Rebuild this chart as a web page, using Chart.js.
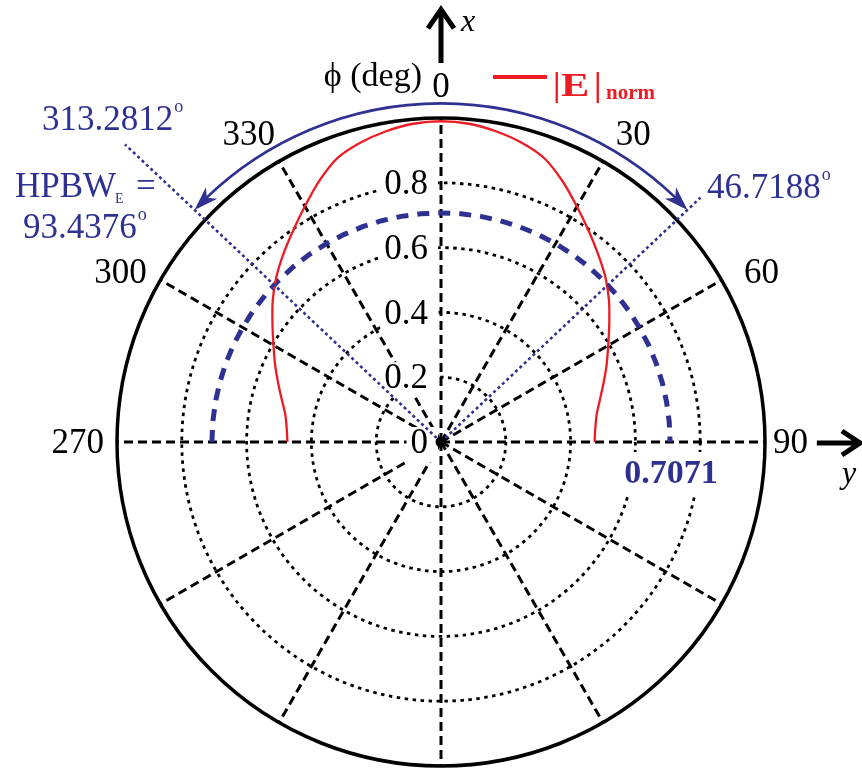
<!DOCTYPE html>
<html>
<head>
<meta charset="utf-8">
<title>E-plane pattern</title>
<script src="https://cdn.jsdelivr.net/npm/chart.js@4.4.1/dist/chart.umd.min.js"></script>
<style>
  html, body { margin: 0; padding: 0; background: #fff; }
  #wrap { position: relative; width: 862px; height: 773px; }
</style>
</head>
<body>
<div id="wrap"><canvas id="pattern"></canvas></div>
<script>
// phi in degrees, one radar spoke every 5 deg, clockwise from +x (top)
const phiDeg = [
  0, 5, 10, 15, 20, 25, 30, 35, 40, 45, 50, 55,
  60, 65, 70, 75, 80, 85, 90, 95, 100, 105, 110, 115,
  120, 125, 130, 135, 140, 145, 150, 155, 160, 165, 170, 175,
  180, 185, 190, 195, 200, 205, 210, 215, 220, 225, 230, 235,
  240, 245, 250, 255, 260, 265, 270, 275, 280, 285, 290, 295,
  300, 305, 310, 315, 320, 325, 330, 335, 340, 345, 350, 355
];

// |E|norm, same order as phiDeg (back half is not plotted)
const eNorm = [
  0.990, 0.986, 0.974, 0.957, 0.932, 0.888, 0.839, 0.795, 0.755, 0.718, 0.677, 0.634,
  0.596, 0.564, 0.534, 0.508, 0.488, 0.478, 0.474, null, null, null, null, null,
  null, null, null, null, null, null, null, null, null, null, null, null,
  null, null, null, null, null, null, null, null, null, null, null, null,
  null, null, null, null, null, null, 0.474, 0.478, 0.488, 0.509, 0.535, 0.565,
  0.597, 0.635, 0.678, 0.719, 0.757, 0.796, 0.840, 0.889, 0.933, 0.957, 0.974, 0.986
];

const hpbwLevel = 0.7071;
const hpbwLeft = 313.2812;
const hpbwRight = 46.7188;
const hpbwWidth = '93.4376';
const labelledPhi = [0, 30, 60, 90, 270, 300, 330];

// half power ring over the same front half as the pattern
const halfPowerRing = phiDeg.map(p => (p <= 90 || p >= 270) ? hpbwLevel : null);

const SERIF = '"Liberation Serif", "Times New Roman", serif';
const BLUE = '#2e3192';
const RED = '#ed1c24';

function rad(d) { return d * Math.PI / 180; }

function arrowHead(ctx, tx, ty, dir, len, half) {
  const dx = Math.cos(dir), dy = Math.sin(dir);
  const nx = -dy, ny = dx;
  ctx.beginPath();
  ctx.moveTo(tx, ty);
  ctx.lineTo(tx - len * dx + half * nx, ty - len * dy + half * ny);
  ctx.lineTo(tx - 0.72 * len * dx, ty - 0.72 * len * dy);
  ctx.lineTo(tx - len * dx - half * nx, ty - len * dy - half * ny);
  ctx.closePath();
  ctx.fill();
}

function degText(ctx, txt, x, y, size) {
  ctx.font = size + 'px ' + SERIF;
  ctx.fillText(txt, x, y);
  const w = ctx.measureText(txt).width;
  ctx.font = '18px ' + SERIF;
  ctx.fillText('o', x + w + 1, y - 18);
}

const decorations = {
  id: 'decorations',
  beforeDatasetsDraw(chart) {
    const r = chart.scales.r;
    const ctx = chart.ctx;
    ctx.save();
    ctx.font = '35px ' + SERIF;
    ctx.textAlign = 'right';
    ctx.textBaseline = 'middle';
    const right = r.xCenter - 13;
    r.ticks.forEach(t => {
      if (t.value >= r.max) return;
      const y = r.yCenter - r.getDistanceFromCenterForValue(t.value) + 2;
      const w = ctx.measureText(t.label).width;
      ctx.fillStyle = '#fff';
      ctx.fillRect(right - w - 4, y - 17, w + 14, 35);
      ctx.fillStyle = '#000';
      ctx.fillText(t.label, right, y);
    });
    ctx.restore();
  },
  afterDatasetsDraw(chart) {
    const r = chart.scales.r;
    const ctx = chart.ctx;
    const R = r.drawingArea;
    const xc = r.xCenter, yc = r.yCenter;
    ctx.save();

    // angle labels
    ctx.fillStyle = '#000';
    ctx.font = '35px ' + SERIF;
    labelledPhi.forEach(p => {
      const i = phiDeg.indexOf(p);
      let pos;
      if (p === 0) {
        pos = r.getPointPosition(i, R + 21);
        ctx.textAlign = 'center'; ctx.textBaseline = 'alphabetic';
      } else if (p === 90) {
        pos = r.getPointPosition(i, R + 8);
        ctx.textAlign = 'left'; ctx.textBaseline = 'middle';
      } else if (p === 270) {
        pos = r.getPointPosition(i, R + 13);
        ctx.textAlign = 'right'; ctx.textBaseline = 'middle';
      } else {
        pos = r.getPointPosition(i, R + 39, rad(p < 180 ? 2 : -2));
        ctx.textAlign = 'center'; ctx.textBaseline = 'middle';
      }
      ctx.fillText(String(p), pos.x, pos.y + (p === 0 ? 0 : 2));
    });

    // half power directions (dotted)
    ctx.strokeStyle = BLUE;
    ctx.lineWidth = 2.6;
    ctx.setLineDash([3, 3]);
    [[hpbwRight, 1.10], [hpbwLeft, 1.34]].forEach(([p, len]) => {
      const end = r.getPointPosition(0, r.getDistanceFromCenterForValue(len), rad(p));
      ctx.beginPath();
      ctx.moveTo(xc, yc);
      ctx.lineTo(end.x, end.y);
      ctx.stroke();
    });
    ctx.setLineDash([]);

    // beamwidth arc with arrow heads
    const ra = r.getDistanceFromCenterForValue(1.045);
    const a0 = rad(hpbwLeft - 360 - 90);
    const a1 = rad(hpbwRight - 90);
    const headLen = 24;
    const da = (headLen * 0.7) / ra;
    ctx.lineWidth = 2.6;
    ctx.beginPath();
    ctx.arc(xc, yc, ra, a0 + da, a1 - da);
    ctx.stroke();
    ctx.fillStyle = BLUE;
    arrowHead(ctx, xc + ra * Math.cos(a1), yc + ra * Math.sin(a1), a1 + Math.PI / 2 - 0.035, headLen, 8);
    arrowHead(ctx, xc + ra * Math.cos(a0), yc + ra * Math.sin(a0), a0 - Math.PI / 2 + 0.035, headLen, 8);

    // blue annotations
    ctx.textAlign = 'left';
    ctx.textBaseline = 'alphabetic';
    degText(ctx, String(hpbwLeft), 42, 130, 35);
    degText(ctx, String(hpbwRight), 707, 198, 35);
    degText(ctx, hpbwWidth, 23, 238, 35);
    ctx.font = '35px ' + SERIF;
    ctx.fillText('HPBW', 15, 197);
    ctx.font = '14px ' + SERIF;
    ctx.fillText('E', 115, 203);
    ctx.font = '35px ' + SERIF;
    ctx.fillText('=', 136, 197);

    // 0.7071 level tag
    ctx.font = 'bold 34px ' + SERIF;
    ctx.textAlign = 'center';
    ctx.textBaseline = 'middle';
    const tx = xc + r.getDistanceFromCenterForValue(hpbwLevel) + 1;
    const ty = yc + 31;
    const tw = ctx.measureText(String(hpbwLevel)).width;
    ctx.fillStyle = '#fff';
    ctx.fillRect(tx - tw / 2 - 13, ty - 21, tw + 26, 43);
    ctx.fillStyle = BLUE;
    ctx.fillText(String(hpbwLevel), tx, ty + 1);

    // legend
    ctx.strokeStyle = RED;
    ctx.lineWidth = 4;
    ctx.beginPath();
    ctx.moveTo(493, 77);
    ctx.lineTo(547, 77);
    ctx.stroke();
    ctx.fillStyle = RED;
    ctx.textAlign = 'left';
    ctx.textBaseline = 'alphabetic';
    ctx.font = 'bold 34px ' + SERIF;
    ctx.fillText('|', 553, 96);
    ctx.fillText('|', 594, 96);
    ctx.save();
    ctx.translate(561, 96);
    ctx.scale(1.25, 1);
    ctx.fillText('E', 0, 0);
    ctx.restore();
    ctx.font = 'bold 21px ' + SERIF;
    ctx.fillText('norm', 606, 99);

    // phi label
    ctx.fillStyle = '#000';
    ctx.font = '34px ' + SERIF;
    ctx.textAlign = 'right';
    ctx.fillText('\u03D5 (deg)', 422, 86);

    // coordinate axes arrows
    ctx.strokeStyle = '#000';
    ctx.lineWidth = 5;
    ctx.lineJoin = 'miter';
    const xTop = yc - r.getDistanceFromCenterForValue(1.335);
    ctx.beginPath();
    ctx.moveTo(xc, yc - r.getDistanceFromCenterForValue(1.17));
    ctx.lineTo(xc, xTop);
    ctx.moveTo(xc - 13, xTop + 19);
    ctx.lineTo(xc, xTop);
    ctx.lineTo(xc + 13, xTop + 19);
    ctx.stroke();
    const yTip = xc + r.getDistanceFromCenterForValue(1.293);
    ctx.beginPath();
    ctx.moveTo(xc + r.getDistanceFromCenterForValue(1.16), yc + 1);
    ctx.lineTo(yTip, yc + 1);
    ctx.moveTo(yTip - 18, yc - 11);
    ctx.lineTo(yTip, yc + 1);
    ctx.lineTo(yTip - 18, yc + 13);
    ctx.stroke();
    ctx.font = 'italic 32px ' + SERIF;
    ctx.textAlign = 'left';
    ctx.fillText('x', 461, 31);
    ctx.fillText('y', 842, 483);

    // centre dot
    ctx.beginPath();
    ctx.arc(xc, yc, 5.5, 0, Math.PI * 2);
    ctx.fill();
    ctx.restore();
  }
};

new Chart(document.getElementById('pattern'), {
  type: 'radar',
  data: {
    labels: phiDeg,
    datasets: [
      { label: '|E|norm', data: eNorm, borderColor: RED, borderWidth: 2.3, tension: 0.25, spanGaps: false, fill: false, pointRadius: 0, pointHitRadius: 0 },
      { label: 'HPBW level', data: halfPowerRing, borderColor: BLUE, borderWidth: 5, borderDash: [12, 9], spanGaps: false, fill: false, pointRadius: 0, pointHitRadius: 0 }
    ]
  },
  options: {
    responsive: true,
    maintainAspectRatio: false,
    animation: false,
    events: [],
    layout: { padding: { top: 118, bottom: 7, left: 117, right: 97 } },
    plugins: { legend: { display: false }, tooltip: { enabled: false } },
    scales: {
      r: {
        min: 0,
        max: 1,
        ticks: { display: false, stepSize: 0.2 },
        pointLabels: { display: false },
        grid: {
          circular: true,
          color: '#000',
          lineWidth: c => (c.tick && c.tick.value >= 1 ? 3.5 : 2.8)
        },
        border: { dash: c => (c.tick && c.tick.value >= 1 ? [] : [3.5, 4.5]) },
        angleLines: {
          color: '#000',
          lineWidth: c => (c.index % 6 === 0 ? 3 : 0),
          borderDash: [9, 5]
        }
      }
    }
  },
  plugins: [decorations]
});
</script>
</body>
</html>
